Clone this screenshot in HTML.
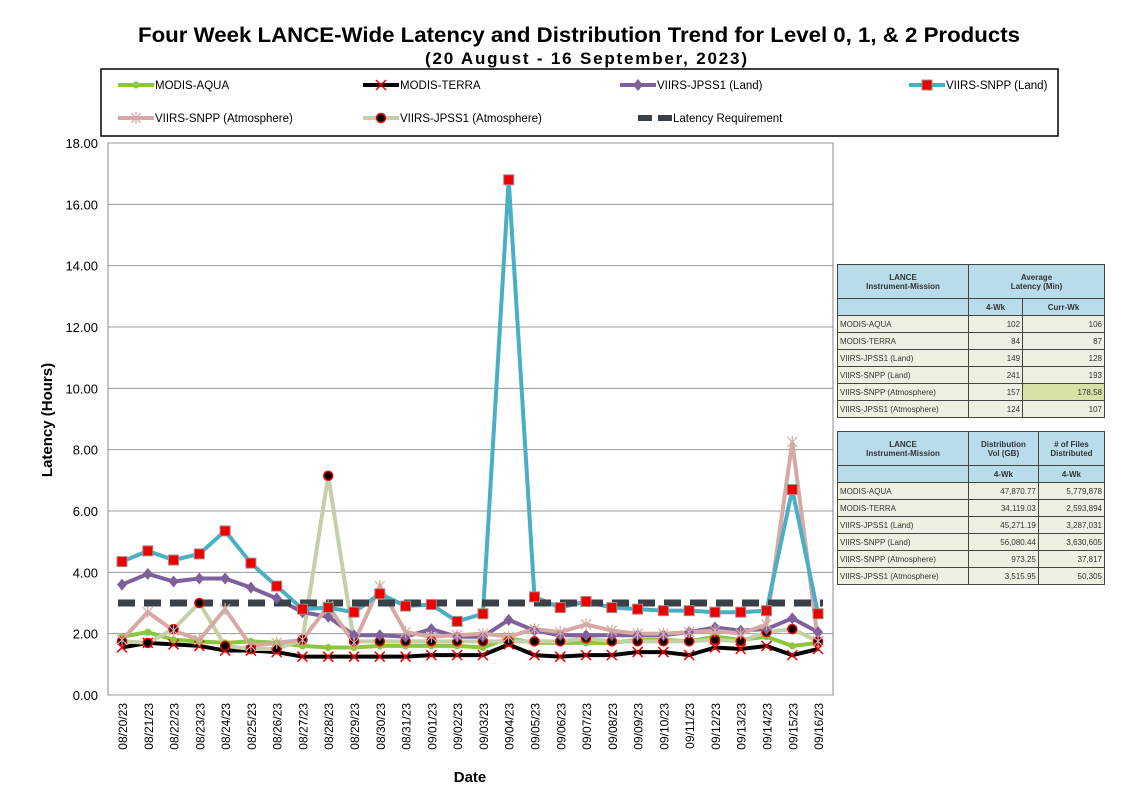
<!DOCTYPE html>
<html><head><meta charset="utf-8"><style>
body{margin:0;background:#fff;width:1138px;height:792px;overflow:hidden;font-family:"Liberation Sans",sans-serif}
table{border-collapse:collapse;position:absolute;font-size:8px;color:#333}
td{border:1px solid #444;padding:0 2px;height:16px;background:#eef1e2}
td.h{background:#b8dcea;text-align:center;font-weight:bold}
td.n{text-align:right}
</style></head><body>
<svg id="s" width="1138" height="792" style="position:absolute;left:0;top:0" font-family="Liberation Sans, sans-serif"></svg>
<table style="left:837px;top:264px;width:268px">
<tr><td class="h" style="width:126px;height:33px">LANCE<br>Instrument-Mission</td><td class="h" colspan="2">Average<br>Latency (Min)</td></tr>
<tr><td class="h"></td><td class="h">4-Wk</td><td class="h">Curr-Wk</td></tr>
<tr><td>MODIS-AQUA</td><td class="n">102</td><td class="n">106</td></tr>
<tr><td>MODIS-TERRA</td><td class="n">84</td><td class="n">87</td></tr>
<tr><td>VIIRS-JPSS1 (Land)</td><td class="n">149</td><td class="n">128</td></tr>
<tr><td>VIIRS-SNPP (Land)</td><td class="n">241</td><td class="n">193</td></tr>
<tr><td>VIIRS-SNPP (Atmosphere)</td><td class="n">157</td><td class="n" style="background:#d4e2a8">178.58</td></tr>
<tr><td>VIIRS-JPSS1 (Atmosphere)</td><td class="n">124</td><td class="n">107</td></tr>
</table>
<table style="left:837px;top:431px;width:268px">
<tr><td class="h" style="width:126px;height:33px">LANCE<br>Instrument-Mission</td><td class="h">Distribution<br>Vol (GB)</td><td class="h"># of Files<br>Distributed</td></tr>
<tr><td class="h"></td><td class="h">4-Wk</td><td class="h">4-Wk</td></tr>
<tr><td>MODIS-AQUA</td><td class="n">47,870.77</td><td class="n">5,779,878</td></tr>
<tr><td>MODIS-TERRA</td><td class="n">34,119.03</td><td class="n">2,593,894</td></tr>
<tr><td>VIIRS-JPSS1 (Land)</td><td class="n">45,271.19</td><td class="n">3,287,031</td></tr>
<tr><td>VIIRS-SNPP (Land)</td><td class="n">56,080.44</td><td class="n">3,630,605</td></tr>
<tr><td>VIIRS-SNPP (Atmosphere)</td><td class="n">973.25</td><td class="n">37,817</td></tr>
<tr><td>VIIRS-JPSS1 (Atmosphere)</td><td class="n">3,515.95</td><td class="n">50,305</td></tr>
</table>
<script>
const s=document.getElementById('s');let h='';
const X0=108,X1=833,Y0=695,K=552/18,x=i=>122+i*25.78,y=v=>Y0-v*K;
h+=`<text x="579" y="42" text-anchor="middle" font-size="21" font-weight="bold" textLength="882" lengthAdjust="spacingAndGlyphs">Four Week LANCE-Wide Latency and Distribution Trend for Level 0, 1, &amp; 2 Products</text>`;
h+=`<text x="586" y="64" text-anchor="middle" font-size="17" font-weight="bold" textLength="322" lengthAdjust="spacing">(20 August  - 16 September, 2023)</text>`;
h+=`<rect x="101" y="69" width="957" height="67" fill="none" stroke="#000" stroke-width="1.5"/>`;
h+=`<rect x="${X0}" y="143" width="${X1-X0}" height="552" fill="none" stroke="#888"/>`;
for(let v=0;v<=18;v+=2){const yy=y(v);h+=`<line x1="${X0}" x2="${X1}" y1="${yy}" y2="${yy}" stroke="#999"/><text x="98" y="${yy+5}" text-anchor="end" font-size="13">${v.toFixed(2)}</text>`;}
const d=[];for(let i=0;i<28;i++){const dt=new Date(2023,7,20+i);d.push(String(dt.getMonth()+1).padStart(2,'0')+'/'+String(dt.getDate()).padStart(2,'0')+'/23');}
d.forEach((t,i)=>{h+=`<text transform="translate(${x(i)+5},703) rotate(-90)" text-anchor="end" font-size="12">${t}</text>`});
h+=`<text x="470" y="782" text-anchor="middle" font-size="15" font-weight="bold">Date</text>`;
h+=`<text transform="translate(52,420) rotate(-90)" text-anchor="middle" font-size="15" font-weight="bold">Latency (Hours)</text>`;
const S={
snl:[4.35,4.7,4.4,4.6,5.35,4.3,3.55,2.8,2.85,2.7,3.3,2.9,2.95,2.4,2.65,16.8,3.2,2.85,3.05,2.85,2.8,2.75,2.75,2.7,2.7,2.75,6.7,2.65],
sna:[1.8,2.7,2.1,1.8,2.8,1.6,1.7,1.8,2.9,1.7,3.55,2.05,1.9,1.95,2.0,1.9,2.15,2.05,2.3,2.1,2.0,2.0,2.05,2.1,2.0,2.3,8.25,1.75],
jl:[3.6,3.95,3.7,3.8,3.8,3.5,3.15,2.7,2.55,1.95,1.95,1.9,2.15,1.9,1.9,2.45,2.1,1.95,1.95,1.95,1.95,1.95,2.05,2.2,2.1,2.15,2.5,2.05],
ja:[1.75,1.7,2.15,3.0,1.6,1.5,1.5,1.8,7.15,1.75,1.75,1.75,1.75,1.75,1.75,1.75,1.75,1.75,1.85,1.75,1.75,1.75,1.75,1.8,1.75,2.05,2.15,1.75],
aq:[1.9,2.05,1.8,1.75,1.7,1.75,1.7,1.6,1.55,1.55,1.6,1.6,1.6,1.6,1.55,1.85,1.7,1.7,1.7,1.7,1.8,1.8,1.75,1.9,1.8,1.9,1.6,1.7],
te:[1.55,1.7,1.65,1.6,1.45,1.45,1.4,1.25,1.25,1.25,1.25,1.25,1.3,1.3,1.3,1.65,1.3,1.25,1.3,1.3,1.4,1.4,1.3,1.55,1.5,1.6,1.3,1.5]};
const P=a=>a.map((v,i)=>`${x(i)},${y(v)}`).join(' ');
const mk=(t,cx,cy,c)=>{
 if(t=='sq')return `<rect x="${cx-5}" y="${cy-5}" width="10" height="10" fill="#e00" stroke="#a88"/>`;
 if(t=='x')return `<path d="M${cx-5} ${cy-5}L${cx+5} ${cy+5}M${cx+5} ${cy-5}L${cx-5} ${cy+5}" stroke="${c}" stroke-width="1.5"/>`;
 if(t=='st')return `<path d="M${cx-5} ${cy-5}L${cx+5} ${cy+5}M${cx+5} ${cy-5}L${cx-5} ${cy+5}M${cx} ${cy-6}V${cy+6}" stroke="${c}" stroke-width="1.2"/>`;
 if(t=='dot')return `<circle cx="${cx}" cy="${cy}" r="4.5" fill="#000" stroke="#e00" stroke-width="1.5"/>`;
 if(t=='dia')return `<path d="M${cx} ${cy-6}L${cx+5} ${cy}L${cx} ${cy+6}L${cx-5} ${cy}Z" fill="${c}"/>`;
 if(t=='ci')return `<circle cx="${cx}" cy="${cy}" r="3.5" fill="${c}"/>`;};
const ser=[['te','#000','x',4,'#e00'],['aq','#8cc63f','ci',4],['ja','#c4d0a8','dot',4],['jl','#7e619a','dia',4],['sna','#d8a8a4','st',4,'#d8a8a4'],['snl','#4aaec4','sq',4]];
ser.forEach(([k,c,m,w,mc])=>{h+=`<polyline points="${P(S[k])}" fill="none" stroke="${c}" stroke-width="${w}"/>`;});
h+=`<line x1="${X0+10}" x2="${X1-10}" y1="${y(3)}" y2="${y(3)}" stroke="#3a4048" stroke-width="7" stroke-dasharray="17 9"/>`;
ser.forEach(([k,c,m,w,mc])=>{S[k].forEach((v,i)=>h+=mk(m,x(i),y(v),mc||c))});
const L=[[140,85,'#8cc63f','ci','MODIS-AQUA'],[385,85,'#000','x','MODIS-TERRA','#e00'],[642,85,'#7e619a','dia','VIIRS-JPSS1 (Land)'],[931,85,'#4aaec4','sq','VIIRS-SNPP (Land)'],[140,118,'#d8a8a4','st','VIIRS-SNPP (Atmosphere)'],[385,118,'#c4d0a8','dot','VIIRS-JPSS1 (Atmosphere)']];
L.forEach(([lx,ly,c,m,t,mc])=>{h+=`<line x1="${lx-22}" x2="${lx+14}" y1="${ly}" y2="${ly}" stroke="${c}" stroke-width="4"/>`+mk(m,lx-4,ly,mc||c)+`<text x="${lx+15}" y="${ly+4}" font-size="11.5">${t}</text>`;});
h+=`<line x1="638" x2="672" y1="118" y2="118" stroke="#3a4048" stroke-width="6" stroke-dasharray="14 6"/><text x="673" y="122" font-size="11.5">Latency Requirement</text>`;
s.innerHTML=h;
</script>
</body></html>
